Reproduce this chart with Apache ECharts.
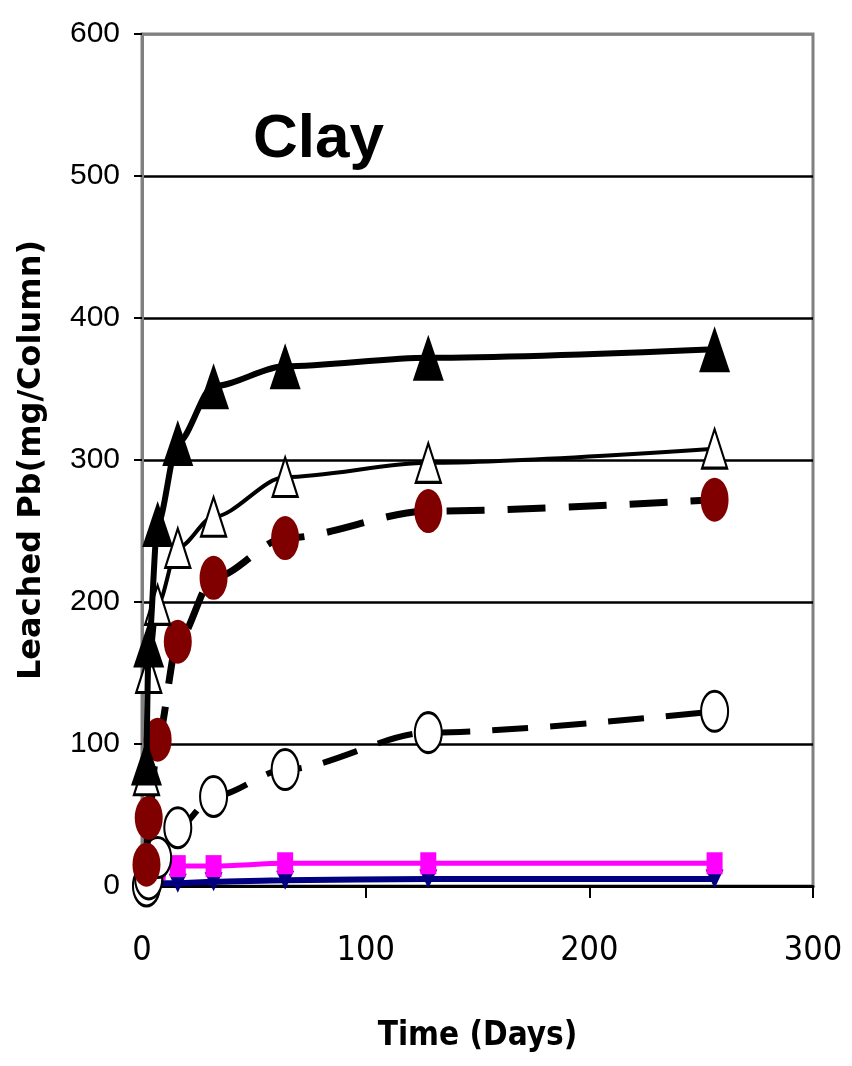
<!DOCTYPE html>
<html>
<head>
<meta charset="utf-8">
<script src="https://cdn.jsdelivr.net/npm/echarts@6/dist/echarts.min.js"></script>
<style>
html,body{margin:0;padding:0;background:#fff;}
#chart{width:852px;height:1066px;}
</style>
</head>
<body>
<div id="chart"></div>
<script>
// ---- data ----
var days = [2, 3, 7, 16, 32, 64, 128, 256];
var filledTriangle = [87, 170, 255, 312, 352, 366, 372, 378];
var openTriangle = [78, 150, 198, 238, 260, 288, 298, 308];
var redCircle = [15, 48, 103, 172, 217, 245, 264, 272];
var openCircle = [0, 5, 20, 41, 63, 82, 108, 123];
var magentaSquare = [3, 8, 12, 14, 14, 16, 16, 16];
var navyTriangle = [0, 1, 2, 2, 3, 4, 5, 5];
var xTicks = [0, 100, 200, 300];
var yTicks = [0, 100, 200, 300, 400, 500, 600];
var titleText = 'Clay';
var xName = 'Time (Days)';
var yName = 'Leached Pb(mg/Column)';

function pairs(vals) {
  return days.map(function (d, i) { return [d, vals[i]]; });
}

var narrow = "'Liberation Sans Narrow', 'DejaVu Sans Condensed', 'Liberation Sans', sans-serif";

var chart = echarts.init(document.getElementById('chart'), null, {renderer: 'canvas'});

var option = {
  backgroundColor: '#fff',
  animation: false,
  title: {
    text: titleText,
    left: 248,
    top: 104,
    textStyle: {fontFamily: 'Liberation Sans', fontWeight: 'bold', fontSize: 62, color: '#000'}
  },
  grid: {
    left: 142, right: 39, top: 34, bottom: 180,
    outerBoundsMode: 'none', containLabel: false,
    show: true, borderColor: '#808080', borderWidth: 3, backgroundColor: '#fff'
  },
  xAxis: {
    type: 'value',
    min: xTicks[0], max: xTicks[xTicks.length - 1], interval: 100,
    name: xName, nameLocation: 'middle', nameGap: 134,
    nameTextStyle: {fontFamily: narrow, fontWeight: 'bold', fontSize: 33, color: '#000'},
    axisLine: {show: true, onZero: false, lineStyle: {color: '#000', width: 3}},
    axisTick: {show: true, length: 12, lineStyle: {color: '#000', width: 2}},
    axisLabel: {margin: 48, fontFamily: narrow, fontSize: 34, color: '#000'},
    splitLine: {show: false}
  },
  yAxis: {
    type: 'value',
    min: yTicks[0], max: yTicks[yTicks.length - 1], interval: 100,
    name: yName, nameLocation: 'middle', nameGap: 94, nameRotate: 90,
    nameTextStyle: {fontFamily: 'DejaVu Sans', fontWeight: 'bold', fontSize: 32, color: '#000'},
    axisLine: {show: true, lineStyle: {color: '#808080', width: 3}},
    axisTick: {show: true, length: 8, lineStyle: {color: '#000', width: 2}},
    axisLabel: {margin: 22, fontFamily: 'Liberation Sans', fontSize: 30, color: '#000'},
    splitLine: {show: true, lineStyle: {color: ['#808080', '#000', '#000', '#000', '#000', '#000', '#808080'], width: 2.5}}
  },
  series: [
    {
      name: 'navy', type: 'line', data: pairs(navyTriangle), smooth: 0.3, smoothMonotone: 'x',
      symbol: 'triangle', symbolRotate: 180, symbolSize: [18, 19],
      lineStyle: {color: '#000080', width: 6}, itemStyle: {color: '#000080'}, z: 2
    },
    {
      name: 'magenta', type: 'line', data: pairs(magentaSquare), smooth: 0.3, smoothMonotone: 'x',
      symbol: 'rect', symbolSize: [16, 22],
      lineStyle: {color: '#ff00ff', width: 5}, itemStyle: {color: '#ff00ff'}, z: 3
    },
    {
      name: 'openCircle', type: 'line', data: pairs(openCircle), smooth: 0.3, smoothMonotone: 'x',
      symbol: 'circle', symbolSize: [27, 40],
      lineStyle: {color: '#000', width: 6, type: [36, 22]},
      itemStyle: {color: '#fff', borderColor: '#000', borderWidth: 2.5}, z: 4
    },
    {
      name: 'redCircle', type: 'line', data: pairs(redCircle), smooth: 0.3, smoothMonotone: 'x',
      symbol: 'circle', symbolSize: [28, 44],
      lineStyle: {color: '#000', width: 7, type: [38, 23]},
      itemStyle: {color: '#800000'}, z: 5
    },
    {
      name: 'openTriangle', type: 'line', data: pairs(openTriangle), smooth: 0.3, smoothMonotone: 'x',
      symbol: 'triangle', symbolSize: [25, 39],
      lineStyle: {color: '#000', width: 4},
      itemStyle: {color: '#fff', borderColor: '#000', borderWidth: 2.5}, z: 6
    },
    {
      name: 'filledTriangle', type: 'line', data: pairs(filledTriangle), smooth: 0.3, smoothMonotone: 'x',
      symbol: 'triangle', symbolSize: [31, 46],
      lineStyle: {color: '#000', width: 6},
      itemStyle: {color: '#000'}, z: 7
    }
  ]
};
chart.setOption(option);
</script>
</body>
</html>
